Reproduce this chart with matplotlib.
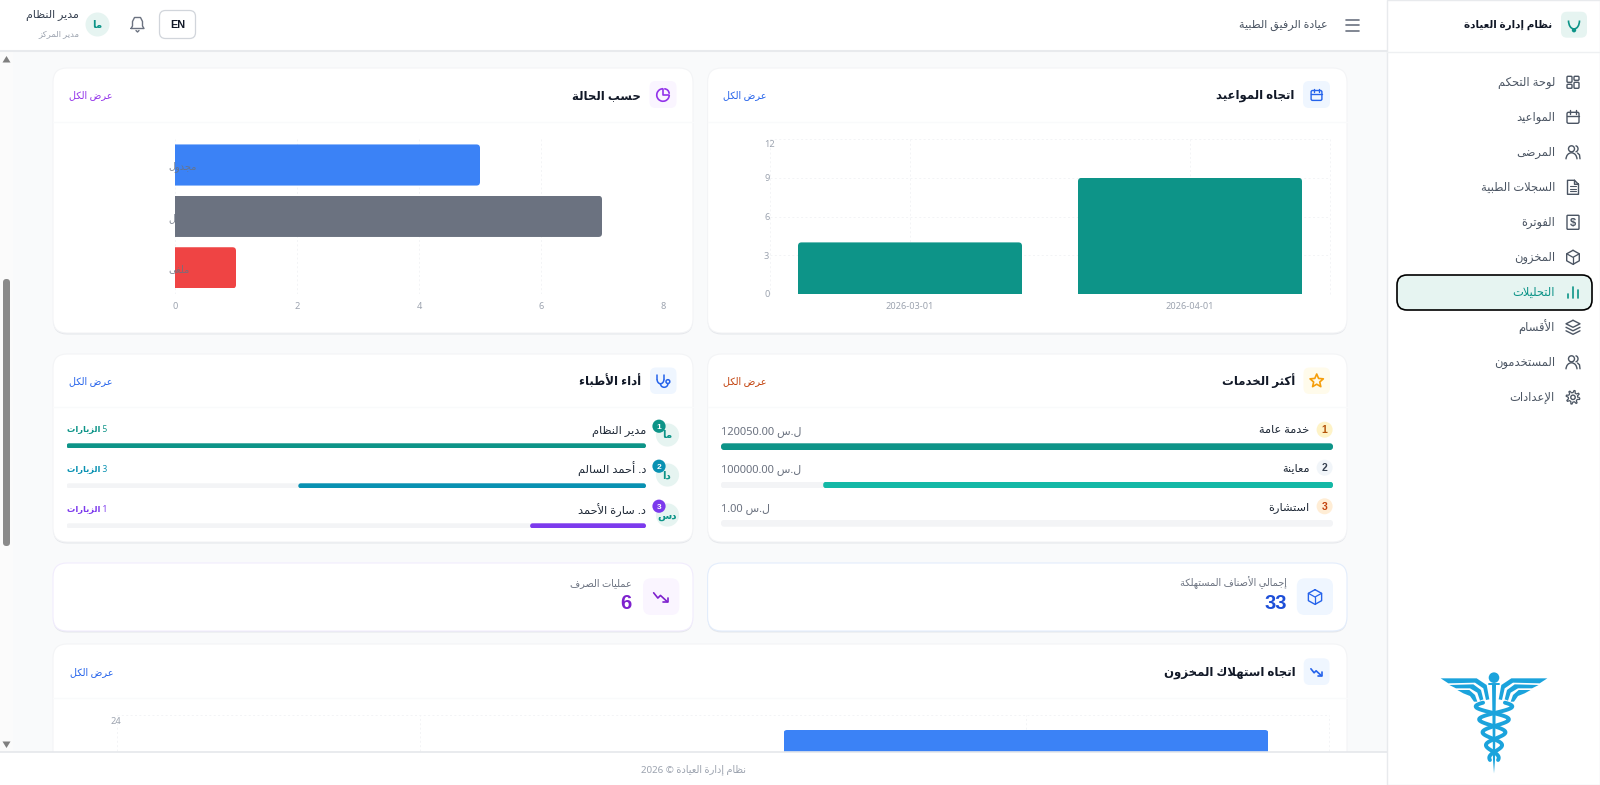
import re
import numpy as np
import matplotlib
matplotlib.use('Agg')
import matplotlib.pyplot as plt
from matplotlib.patches import FancyBboxPatch, Circle, Polygon, Arc
from matplotlib.transforms import IdentityTransform, ScaledTranslation

plt.rcParams['font.family'] = ['Noto Sans', 'DejaVu Sans']
BOLD_LATIN = ['Liberation Sans']

W, H = 1600, 785

# chart data
appt_months = ['2026-03-01', '2026-04-01']
appt_counts = [4, 9]
appt_ticks = [0, 3, 6, 9, 12]

status_labels = ['مجدول', 'مكتمل', 'ملغى']
status_counts = [5, 7, 1]
status_colors = ['#3b82f6', '#6b7280', '#ef4444']
status_ticks = [0, 2, 4, 6, 8]

stock_counts = [11, 22]  # first bar is below the fold, 33 in total
stock_ticks = [0, 6, 12, 18, 24]

service_names = ['خدمة عامة', 'معاينة', 'استشارة']
service_values = [120050.00, 100000.00, 1.00]
service_colors = ['#0d9488', '#14b8a6', '#0d9488']
service_badge_bg = ['#fef3c7', '#f1f5f9', '#ffedd5']
service_badge_fg = ['#b45309', '#374151', '#c2410c']

doctor_names = ['مدير النظام', 'د. أحمد السالم', 'د. سارة الأحمد']
doctor_initials = ['ما', 'دا', 'دس']
doctor_visits = [5, 3, 1]
doctor_colors = ['#0d9488', '#0891b2', '#7c3aed']

menu_items = ['لوحة التحكم', 'المواعيد', 'المرضى', 'السجلات الطبية', 'الفوترة',
              'المخزون', 'التحليلات', 'الأقسام', 'المستخدمون', 'الإعدادات']


# matplotlib does no arabic shaping, so pick the presentation forms by hand
FORMS = {'ء': (0xFE80,)}
for c, b in zip('اأإآدذرزوى', [0xFE8D, 0xFE83, 0xFE87, 0xFE81, 0xFEA9, 0xFEAB, 0xFEAD, 0xFEAF, 0xFEED, 0xFEEF]):
    FORMS[c] = (b, b + 1)
FORMS['ة'] = (0xFE93, 0xFE94)
for c, b in zip('بتثجحخسشصضطظعغفقكلمنهي',
                [0xFE8F, 0xFE95, 0xFE99, 0xFE9D, 0xFEA1, 0xFEA5, 0xFEB1, 0xFEB5, 0xFEB9, 0xFEBD, 0xFEC1,
                 0xFEC5, 0xFEC9, 0xFECD, 0xFED1, 0xFED5, 0xFED9, 0xFEDD, 0xFEE1, 0xFEE5, 0xFEE9, 0xFEF1]):
    FORMS[c] = (b, b + 1, b + 2, b + 3)
LAM_ALEF = {'آ': 0xFEF5, 'أ': 0xFEF7, 'إ': 0xFEF9, 'ا': 0xFEFB}


def shape(s):
    out = []
    i = 0
    prev = False
    while i < len(s):
        c = s[i]
        nxt = s[i + 1] if i + 1 < len(s) else ''
        if c == 'ل' and nxt in LAM_ALEF and nxt:
            out.append(chr(LAM_ALEF[nxt] + (1 if prev else 0)))
            prev = False
            i += 2
            continue
        if c not in FORMS:
            out.append(c)
            prev = False
            i += 1
            continue
        f = FORMS[c]
        joins = len(f) == 4 and nxt in FORMS and len(FORMS.get(nxt, ())) > 1
        if len(f) == 1:
            k = 0
        elif prev and joins:
            k = 3
        elif prev:
            k = 1
        elif joins:
            k = 2
        else:
            k = 0
        out.append(chr(f[k]))
        prev = joins
        i += 1
    return ''.join(out)


def ar(s):
    res = ''
    for tok in re.split(r'(\d+(?:\.\d+)?)', s):
        if tok and tok[0].isdigit():
            res = tok + res
        else:
            res = shape(tok)[::-1] + res
    return res


fig = plt.figure(figsize=(W / 100, H / 100), dpi=100, facecolor='#f9fafb')


def ax_px(x0, y0, x1, y1, z=1):
    ax = fig.add_axes([x0 / W, 1 - y1 / H, (x1 - x0) / W, (y1 - y0) / H], zorder=z)
    ax.patch.set_alpha(0)
    return ax


def layer(z):
    ax = fig.add_axes([0, 0, 1, 1], zorder=z)
    ax.set_xlim(0, W)
    ax.set_ylim(H, 0)
    ax.axis('off')
    return ax


bg = layer(0)
top = layer(5)


def rbox(ax, x0, y0, x1, y1, r, fc='none', ec='none', lw=0, z=2):
    p = FancyBboxPatch((x0 + r, y0 + r), x1 - x0 - 2 * r, y1 - y0 - 2 * r,
                       boxstyle=f'round,pad={r},rounding_size={r}', fc=fc, ec=ec, lw=lw, zorder=z)
    ax.add_patch(p)
    return p


def T(x, y, s, size=9, color='#111827', ha='right', weight='normal', z=6, fam=None):
    # baseline alignment, arabic glyph boxes make va='center' jump around
    kw = {'family': fam} if fam else {}
    top.text(x, y + 0.33 * size * 100 / 72, s, fontsize=size, color=color, ha=ha, va='baseline',
             fontweight=weight, zorder=z, **kw)


def L(xs, ys, c, lw=1.0, z=6):
    top.plot(xs, ys, color=c, lw=lw, solid_capstyle='round', solid_joinstyle='round', zorder=z)


def ring(x, y, r, c, lw=1.0, fc='none', z=6):
    top.add_patch(Circle((x, y), r, fc=fc, ec=c, lw=lw, zorder=z))


def card(x0, y0, x1, y1, ec='#f3f4f6', shadow='#e5e7eb'):
    rbox(bg, x0, y0 + 1.5, x1, y1 + 1.5, 14, fc=shadow, z=1)
    rbox(bg, x0, y0, x1, y1, 14, fc='white', ec=ec, lw=0.8, z=2)


def round_bars(ax, bars, r, keep='right'):
    # clip a bar to a rounded box, the flat end runs past the axis line
    for b in bars:
        e = b.get_window_extent()
        x0, x1, y0, y1 = e.x0, e.x1, e.y0, e.y1
        if keep == 'top':
            y0 -= 2 * r
        elif keep == 'right':
            x0 -= 2 * r
        clip = FancyBboxPatch((x0, y0), x1 - x0, y1 - y0, boxstyle=f'round,pad=0,rounding_size={r}',
                              transform=IdentityTransform())
        b.set_clip_path(clip.get_path(), clip.get_transform())


GRID_C = '#f3f4f6'
GRID_LS = (0, (2, 2.5))


def dotted_grid(ax, axis='both'):
    ax.set_axisbelow(True)
    ax.grid(True, axis=axis, color=GRID_C, lw=0.7, ls=GRID_LS)
    for s in ax.spines.values():
        s.set_visible(False)
    ax.tick_params(length=0, labelsize=6.6, labelcolor='#9ca3af')


# --- icons --------------------------------------------------------------
def ic_grid(x, y, c):
    for a, b, d, e in [(-6, -6, -1, 0), (1, -6, 6, -2), (1, 0, 6, 6), (-6, 2, -1, 6)]:
        rbox(top, x + a, y + b, x + d, y + e, 1, ec=c, lw=1.0, z=6)


def ic_calendar(x, y, c, s=1.0):
    rbox(top, x - 6 * s, y - 5 * s, x + 6 * s, y + 6 * s, 1.5, ec=c, lw=1.0, z=6)
    L([x - 6 * s, x + 6 * s], [y - 1.5 * s, y - 1.5 * s], c)
    L([x - 3 * s, x - 3 * s], [y - 7 * s, y - 3.5 * s], c)
    L([x + 3 * s, x + 3 * s], [y - 7 * s, y - 3.5 * s], c)


def ic_users(x, y, c):
    ring(x - 1.5, y - 3.5, 3, c)
    top.add_patch(Arc((x - 1.5, y + 7), 11, 13, theta1=180, theta2=360, ec=c, lw=1.0, zorder=6))
    top.add_patch(Arc((x + 2.5, y - 3.5), 5, 6, theta1=-90, theta2=90, ec=c, lw=1.0, zorder=6))
    L([x + 4.5, x + 6.5, x + 7], [y + 0.7, y + 2.5, y + 6.5], c)


def ic_doc(x, y, c):
    L([x + 1.5, x - 5.5, x - 5.5, x + 5.5, x + 5.5, x + 1.5, x + 1.5, x + 5.5],
      [y - 7, y - 7, y + 7, y + 7, y - 3, y - 7, y - 3, y - 3], c)
    for d in (0, 2.5, 5):
        L([x - 3, x + 3], [y - 0.5 + d - 0.5, y - 0.5 + d - 0.5], c, lw=0.8)


def ic_bill(x, y, c):
    rbox(top, x - 6, y - 7, x + 6, y + 7, 0.8, ec=c, lw=1.0, z=6)
    T(x, y, '$', size=8, color=c, ha='center', weight='bold', fam=BOLD_LATIN)


def ic_box(x, y, c, s=1.0):
    xs = [x, x + 6.3 * s, x + 6.3 * s, x, x - 6.3 * s, x - 6.3 * s, x]
    ys = [y - 7 * s, y - 3.5 * s, y + 3.5 * s, y + 7 * s, y + 3.5 * s, y - 3.5 * s, y - 7 * s]
    L(xs, ys, c)
    L([x - 6.3 * s, x, x + 6.3 * s], [y - 3.5 * s, y, y - 3.5 * s], c, lw=0.9)
    L([x, x], [y, y + 7 * s], c, lw=0.9)


def ic_bars(x, y, c):
    L([x - 5, x - 5], [y + 1.5, y + 6], c, lw=1.2)
    L([x, x], [y - 5, y + 6], c, lw=1.2)
    L([x + 5, x + 5], [y - 2, y + 6], c, lw=1.2)


def ic_layers(x, y, c):
    L([x, x + 7, x, x - 7, x], [y - 7, y - 3.5, y, y - 3.5, y - 7], c)
    L([x - 7, x, x + 7], [y, y + 3.5, y], c)
    L([x - 7, x, x + 7], [y + 3.5, y + 7, y + 3.5], c)


def ic_gear(x, y, c):
    ring(x, y, 2.2, c)
    ang = np.linspace(0, 2 * np.pi, 41)
    rad = 5.8 + 1.1 * np.sign(np.sin(8 * ang))
    L(x + rad * np.cos(ang), y + rad * np.sin(ang), c, lw=0.9)


def ic_trend(x, y, c, s=1.0):
    L([x - 7 * s, x - 3 * s, x - 0.5 * s, x + 6 * s], [y - 4 * s, y + 1 * s, y - 1.5 * s, y + 4.5 * s], c, lw=1.2)
    L([x + 2 * s, x + 6.3 * s, x + 6.3 * s], [y + 4.7 * s, y + 4.7 * s, y + 0.5 * s], c, lw=1.2)


def ic_pie(x, y, c):
    top.add_patch(Arc((x, y), 12.5, 12.5, theta1=0, theta2=270, ec=c, lw=1.2, zorder=6))
    L([x, x, x + 6.3, x + 6.3], [y - 6.3, y, y, y - 0.2], c, lw=1.2)
    top.add_patch(Arc((x + 1.2, y - 1.2), 10, 10, theta1=270, theta2=360, ec=c, lw=1.2, zorder=6))


def ic_star(x, y, c):
    a = np.deg2rad(np.arange(-90, 270, 36))
    r = np.where(np.arange(10) % 2 == 0, 7, 3.2)
    top.add_patch(Polygon(np.c_[x + r * np.cos(a), y + r * np.sin(a)], fc='none', ec=c, lw=1.2, zorder=6,
                          joinstyle='round'))


def ic_steth(x, y, c, lw=1.1):
    L([x - 6, x - 6], [y - 6, y - 2], c, lw=lw)
    L([x + 1, x + 1], [y - 6, y - 2], c, lw=lw)
    top.add_patch(Arc((x - 2.5, y - 2), 7, 9.5, theta1=0, theta2=180, ec=c, lw=lw, zorder=6))
    top.add_patch(Arc((x + 1.2, y + 2.8), 7.4, 7, theta1=0, theta2=180, ec=c, lw=lw, zorder=6))
    ring(x + 4.9, y + 0.6, 1.9, c, lw=lw)


# --- page frame ---------------------------------------------------------
bg.add_patch(plt.Rectangle((0, 0), 13, H, fc='#fbfbfb', ec='none', zorder=1))

card(707.6, 68, 1347, 333)
card(53, 68, 693, 333)
card(707.6, 354, 1347, 542)
card(53, 354, 693, 542)
card(707.6, 563, 1347, 631, ec='#e3edfc', shadow='#e5e7eb')
card(53, 563, 693, 631, ec='#f1ecfd', shadow='#e5e7eb')
card(53, 644, 1347, 900)
for yy, x0, x1 in [(121.7, 708, 1347), (121.7, 53, 693), (407, 708, 1347), (407, 53, 693), (698, 53, 1347)]:
    bg.plot([x0, x1], [yy, yy], color='#f9fafb', lw=1, zorder=3)


def card_head(x_icon0, y, title, link_right, link_color, size=8.5):
    T(x_icon0 - 8.5, y, ar(title), size=size, weight='bold')
    T(link_right, y, ar('عرض الكل'), size=7, color=link_color)


# --- appointments chart -------------------------------------------------
rbox(top, 1303, 81, 1330, 108, 6, fc='#eff6ff', z=5)
ic_calendar(1316.5, 95, '#2563eb', 0.9)
card_head(1303, 95, 'اتجاه المواعيد', 766.5, '#2563eb')

ax1 = ax_px(770, 139.2, 1330, 294)
ax1.bar(appt_months, appt_counts, width=0.8, color='#0d9488', zorder=3)
ax1.set_xlim(-0.5, 1.5)
ax1.set_ylim(0, 12)
ax1.set_yticks(appt_ticks)
dotted_grid(ax1)
ax1.tick_params(axis='x', pad=6)
ax1.tick_params(axis='y', pad=4.3)
for lab in ax1.get_yticklabels():
    lab.set_ha('left')
    if lab.get_text() == '12':
        lab.set_transform(lab.get_transform() + ScaledTranslation(0, -3 / 72, fig.dpi_scale_trans))
for v in (-0.5, 1.5):
    ax1.axvline(v, color=GRID_C, lw=0.7, ls=GRID_LS, zorder=0, clip_on=False)
round_bars(ax1, ax1.patches, 3.5, keep='top')

# --- status chart -------------------------------------------------------
rbox(top, 649.5, 81, 676.5, 108, 6, fc='#faf5ff', z=5)
ic_pie(663, 95, '#9333ea')
card_head(649.5, 95, 'حسب الحالة', 112.5, '#9333ea')

ax2 = ax_px(175, 139.3, 663, 293.5)
y_pos = np.arange(len(status_counts))
bars2 = ax2.barh(y_pos, status_counts, height=0.8, color=status_colors, zorder=3)
ax2.set_xlim(0, 8)
ax2.set_ylim(2.5, -0.5)
ax2.set_xticks(status_ticks)
ax2.set_yticks([])
dotted_grid(ax2, 'x')
ax2.tick_params(axis='x', pad=6)
for i, lab in enumerate(status_labels):
    ax2.annotate(ar(lab), (0, i), xytext=(-7, -1.5), textcoords='offset pixels', ha='left', va='center',
                 fontsize=7, color='#6b7280', zorder=5, annotation_clip=False, alpha=0.85)
round_bars(ax2, bars2, 3.5, keep='right')

# --- top services -------------------------------------------------------
rbox(top, 1303.5, 367.5, 1330, 394, 6, fc='#fffbeb', z=5)
ic_star(1316.7, 381, '#f59e0b')
card_head(1303.5, 381, 'أكثر الخدمات', 767, '#c2410c')

ax3 = ax_px(721, 427.5, 1333, 542.5)
rows3 = np.arange(len(service_values))
track3 = ax3.barh(rows3, [max(service_values)] * 3, height=0.175, color='#f3f4f6', zorder=1)
bars3 = ax3.barh(rows3, service_values, height=0.175, color=service_colors, zorder=2)
ax3.set_xlim(max(service_values), 0)
ax3.set_ylim(2.5, -0.5)
ax3.axis('off')
round_bars(ax3, list(track3) + list(bars3), 3, keep='both')

for i, yy in enumerate([429.7, 467.7, 506.3]):
    top.add_patch(Circle((1324.6, yy), 8, fc=service_badge_bg[i], ec='none', zorder=5))
    T(1324.6, yy, str(i + 1), size=7.5, color=service_badge_fg[i], ha='center', weight='bold', fam=BOLD_LATIN)
    T(1309.4, yy, ar(service_names[i]), size=8.2, color='#1f2937')
    T(721, yy + 1, ar(f'ل.س {service_values[i]:.2f}'), size=8, color='#6b7280', ha='left')

# --- doctors ------------------------------------------------------------
rbox(top, 650, 367.5, 676.5, 394, 6, fc='#eff6ff', z=5)
ic_steth(663, 381, '#2563eb')
card_head(650, 381, 'أداء الأطباء', 112.8, '#2563eb')

ax4 = ax_px(66.5, 425.8, 646, 545.8)
rows4 = np.arange(len(doctor_visits))
track4 = ax4.barh(rows4, [max(doctor_visits)] * 3, height=0.125, color='#f3f4f6', zorder=1)
bars4 = ax4.barh(rows4, doctor_visits, height=0.125, color=doctor_colors, zorder=2)
ax4.set_xlim(max(doctor_visits), 0)
ax4.set_ylim(2.5, -0.5)
ax4.axis('off')
round_bars(ax4, list(track4) + list(bars4), 2.5, keep='both')

for i, yy in enumerate([435, 475, 515]):
    top.add_patch(Circle((667.5, yy), 11.6, fc='#e6f4f1', ec='none', zorder=5))
    T(667, yy, ar(doctor_initials[i]), size=7.5, color='#0d9488', ha='center', weight='bold')
    top.add_patch(Circle((659, yy - 8.8), 6.6, fc=doctor_colors[i], ec='none', zorder=6))
    T(659, yy - 8.8, str(i + 1), size=6, color='white', ha='center', weight='bold', z=7, fam=BOLD_LATIN)
    T(646, yy - 5, ar(doctor_names[i]), size=8.2, color='#1f2937')
    T(107, yy - 5.7, ar(f'{doctor_visits[i]} الزيارات'), size=6, color=doctor_colors[i], weight='bold')

# --- stat cards ---------------------------------------------------------
rbox(top, 1296.8, 578.3, 1333, 615, 8, fc='#eff6ff', z=5)
ic_box(1315, 597, '#2563eb', 1.05)
T(1286.7, 582.7, ar('إجمالي الأصناف المستهلكة'), size=7, color='#6b7280')
T(1286.7, 602, '33', size=14.5, color='#1d4ed8', weight='bold', fam=BOLD_LATIN)

rbox(top, 643, 578.3, 679.3, 615, 8, fc='#faf5ff', z=5)
ic_trend(661, 597, '#7e22ce', 1.05)
T(631.8, 582.7, ar('عمليات الصرف'), size=7, color='#6b7280')
T(631.8, 602, '6', size=14.5, color='#7e22ce', weight='bold', fam=BOLD_LATIN)

# --- stock consumption chart (runs under the footer) --------------------
rbox(top, 1303.7, 658.3, 1329.5, 685, 6, fc='#eff6ff', z=5)
ic_trend(1316.5, 672, '#2563eb', 0.8)
card_head(1303.7, 671.7, 'اتجاه استهلاك المخزون', 114, '#2563eb')

ax5 = ax_px(117, 715.3, 1329, 891.7)
ax5.bar([0, 1], stock_counts, width=0.8, color='#3b82f6', zorder=3)
ax5.set_xlim(-0.5, 1.5)
ax5.set_ylim(0, 24)
ax5.set_yticks(stock_ticks, ['' if v != 24 else '24' for v in stock_ticks])
ax5.set_xticks([])
dotted_grid(ax5)
ax5.tick_params(axis='y', pad=5)
for lab in ax5.get_yticklabels():
    lab.set_ha('left')
    if lab.get_text() == '24':
        lab.set_transform(lab.get_transform() + ScaledTranslation(0, -3.5 / 72, fig.dpi_scale_trans))
for v in (-0.5, 0, 1, 1.5):
    ax5.axvline(v, color=GRID_C, lw=0.7, ls=GRID_LS, zorder=0, clip_on=False)
round_bars(ax5, ax5.patches, 3.5, keep='top')

# --- header, footer, scrollbar ------------------------------------------
top.add_patch(plt.Rectangle((0, 0), 1387, 50.5, fc='white', ec='none', zorder=3))
top.plot([0, 1387], [51, 51], color='#e8eaed', lw=1.5, zorder=3)
top.add_patch(plt.Rectangle((0, 752), 1387, 33, fc='white', ec='none', zorder=3))
top.plot([0, 1387], [752, 752], color='#e5e7eb', lw=1.2, zorder=3)
T(693.7, 769, ar('نظام إدارة العيادة © 2026'), size=7, color='#9ca3af', ha='center')

for yy in (19.5, 25, 30.5):
    L([1346, 1359], [yy, yy], '#6b7280', lw=1.2)
T(1327.5, 24.5, ar('عيادة الرفيق الطبية'), size=8, color='#4b5563')

rbox(top, 159.5, 10.5, 195.5, 38.5, 6, fc='white', ec='#d1d5db', lw=0.9, z=5)
T(177.5, 24, 'EN', size=7.8, color='#111827', ha='center', weight='bold', fam=BOLD_LATIN)

bx, by = 137.5, 24
L([bx - 6.5, bx - 5, bx - 5, bx - 3, bx + 3, bx + 5, bx + 5, bx + 6.5, bx - 6.5],
  [by + 4.5, by + 2, by - 2.5, by - 6.5, by - 6.5, by - 2.5, by + 2, by + 4.5, by + 4.5], '#6b7280', lw=1.0)
L([bx - 1.5, bx, bx + 1.5], [by + 6.5, by + 8, by + 6.5], '#6b7280', lw=1.0)

top.add_patch(Circle((97.5, 24.5), 12, fc='#e6f4f1', ec='none', zorder=5))
T(97.5, 24.5, ar('ما'), size=7.5, color='#0d9488', ha='center', weight='bold')
T(79, 14.5, ar('مدير النظام'), size=8, color='#374151')
T(79, 33, ar('مدير المركز'), size=6, color='#9ca3af')

top.add_patch(Polygon([(2.5, 62.5), (10.5, 62.5), (6.5, 56)], fc='#7f7f7f', ec='none', zorder=6))
top.add_patch(Polygon([(2.5, 741.5), (10.5, 741.5), (6.5, 748)], fc='#7f7f7f', ec='none', zorder=6))
rbox(top, 3, 279, 10, 546, 3.4, fc='#8a8a8a', z=6)

# --- sidebar ------------------------------------------------------------
top.add_patch(plt.Rectangle((1387, 0), 213, H, fc='white', ec='#e8eaed', lw=1, zorder=3))
top.plot([1387, 1600], [51.5, 51.5], color='#eef0f2', lw=1, zorder=4)
rbox(top, 1561, 11.7, 1587, 37.7, 6, fc='#e6f4f1', z=5)
top.add_patch(Arc((1574, 20.5), 11, 17, theta1=0, theta2=180, ec='#0d9488', lw=1.2, zorder=6))
top.add_patch(Circle((1574, 30.2), 2.2, fc='#0d9488', ec='none', zorder=6))
T(1552, 24, ar('نظام إدارة العيادة'), size=7.5, weight='bold')

rbox(top, 1397, 275, 1592, 310, 10, fc='#e6f4f1', ec='black', lw=1.2, z=4)

menu_y = [82.3, 117.3, 152.3, 187.3, 222.3, 257.3, 292.3, 327.3, 362.3, 397.3]
menu_icons = [ic_grid, ic_calendar, ic_users, ic_doc, ic_bill, ic_box, ic_bars, ic_layers, ic_users, ic_gear]
for name, yy, icon in zip(menu_items, menu_y, menu_icons):
    col = '#0d9488' if name == 'التحليلات' else '#4b5563'
    T(1555, yy, ar(name), size=8.3, color=col)
    icon(1573, yy, col)

# --- caduceus logo ------------------------------------------------------
LOGO = '#1ba3dc'


def lp(zx, zy):
    return 1420 + zx / 3, 660 + zy / 3


wing_a = [(62, 55), (170, 55), (200, 75), (208, 118), (198, 120), (190, 85), (165, 68), (85, 70)]
wing_b = [(88, 75), (160, 73), (183, 90), (190, 118), (180, 122), (172, 98), (150, 85), (108, 85)]
wing_c = [(112, 90), (148, 90), (165, 105), (172, 125), (162, 125), (150, 108), (130, 100)]
for wing in (wing_a, wing_b, wing_c):
    pts = [lp(*q) for q in wing]
    mir = [lp(444 - q[0], q[1]) for q in wing]
    top.add_patch(Polygon(pts, fc=LOGO, ec='none', zorder=6))
    top.add_patch(Polygon(mir, fc=LOGO, ec='none', zorder=6))

bx, by = lp(222, 53)
top.add_patch(Circle((bx, by), 5.3, fc=LOGO, ec='none', zorder=6))
L([bx - 5, bx + 5], [by + 6.5, by + 6.5], LOGO, lw=1.4)
top.add_patch(Polygon([lp(216, 72), lp(228, 72), lp(225, 300), lp(222, 340), lp(219, 300)], fc=LOGO, ec='none', zorder=6))

zy = np.linspace(128, 300, 80)
amp = 58 * (1 - (zy - 128) / 172 * 0.78)
for sgn in (1, -1):
    zx = 222 + sgn * amp * np.sin(2 * np.pi * (zy - 128) / 78 + 0.6)
    px, py = lp(zx, zy)
    L(px, py, LOGO, lw=2.8)

fig.savefig('out.png', dpi=100, facecolor=fig.get_facecolor())
